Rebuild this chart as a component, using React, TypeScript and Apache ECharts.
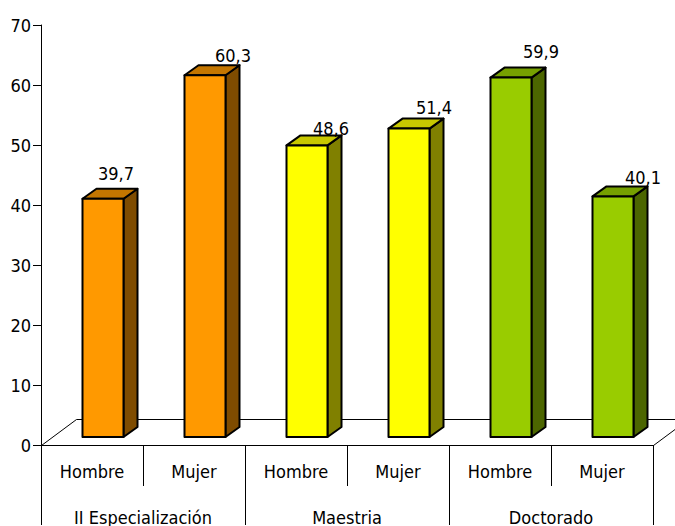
import React, { useEffect, useRef } from "react";
import * as echarts from "echarts";

const categories = ["Hombre", "Mujer", "Hombre", "Mujer", "Hombre", "Mujer"];
const groups = ["II Especialización", "Maestria", "Doctorado"];
const values = [39.7, 60.3, 48.6, 51.4, 59.9, 40.1];
const groupOfBar = [0, 0, 1, 1, 2, 2];

// styling (not data)
const palette = [
  { front: "#FF9900", top: "#C47600", side: "#7F4C00" },
  { front: "#FFFF00", top: "#C8C800", side: "#808000" },
  { front: "#99CC00", top: "#76A000", side: "#4C6600" },
];
const labelDx = [13, 28, 24, 25, 30, 30];
const labelDy = [25, 20, 17, 21, 26, 19];

const FONT = "'Liberation Sans Narrow', 'Arial Narrow', 'DejaVu Sans Condensed', 'Liberation Sans', Arial, sans-serif";
const FS = 18;

export default function App() {
  const ref = useRef<HTMLDivElement>(null);
  useEffect(() => {
    const chart = echarts.init(ref.current!, null, { renderer: "svg" });
    const barData = values.map((v, i) => [i, v, groupOfBar[i]]);
    const option: any = {
      animation: false,
      backgroundColor: "#fff",
      grid: { left: 41, right: 22, top: 25, bottom: 80 },
      xAxis: [
        {
          type: "category",
          data: categories,
          position: "bottom",
          axisLine: { show: true, lineStyle: { color: "#000", width: 1 } },
          axisTick: { show: true, length: 41, interval: 0, lineStyle: { color: "#000" } },
          axisLabel: { margin: 17, fontSize: FS, fontFamily: FONT, color: "#000", interval: 0 },
          z: 1,
        },
        {
          type: "category",
          data: groups,
          position: "bottom",
          axisLine: { show: true, lineStyle: { color: "#000", width: 1 } },
          axisTick: { show: true, length: 80, interval: 0, lineStyle: { color: "#000" } },
          axisLabel: { margin: 63, fontSize: FS, fontFamily: FONT, color: "#000", interval: 0 },
          z: 1,
        },
      ],
      yAxis: {
        type: "value",
        min: 0,
        max: 70,
        interval: 10,
        axisLine: { show: true, lineStyle: { color: "#000", width: 1 } },
        axisTick: { show: true, length: 8, lineStyle: { color: "#000" } },
        axisLabel: { margin: 10, fontSize: FS, fontFamily: FONT, color: "#000" },
        splitLine: { show: false },
      },
      series: [
        {
          type: "custom",
          xAxisIndex: 0,
          z: 0,
          data: [[0]],
          renderItem: (params: any, api: any) => {
            const cs = params.coordSys;
            const x0 = Math.round(cs.x) + 0.5;
            const x1 = Math.round(cs.x + cs.width) + 0.5;
            const y0 = Math.round(cs.y + cs.height) + 0.5;
            const dx = 35;
            const dy = -26;
            return {
              type: "polygon",
              shape: {
                points: [
                  [x0, y0],
                  [x1, y0],
                  [x1 + dx, y0 + dy],
                  [x0 + dx, y0 + dy],
                ],
              },
              style: { fill: "#fff", stroke: "#000", lineWidth: 1 },
            };
          },
        },
        {
          type: "custom",
          xAxisIndex: 0,
          z: 5,
          data: barData,
          renderItem: (params: any, api: any) => {
            const i = api.value(0);
            const v = api.value(1);
            const g = api.value(2);
            const col = palette[g];
            const top = api.coord([i, v]);
            const base = api.coord([i, 0]);
            const sx = 11;
            const sy = -8;
            const half = 20.5;
            const ddx = 14;
            const ddy = -10;
            const xl = top[0] - half + sx;
            const xr = top[0] + half + sx;
            const yt = top[1] + sy;
            const yb = base[1] + sy;
            const stroke = { stroke: "#000", lineWidth: 2, lineJoin: "round" };
            const idx = params.dataIndex;
            return {
              type: "group",
              children: [
                {
                  type: "polygon",
                  shape: { points: [[xr, yt], [xr + ddx, yt + ddy], [xr + ddx, yb + ddy], [xr, yb]] },
                  style: { fill: col.side, ...stroke },
                },
                {
                  type: "polygon",
                  shape: { points: [[xl, yt], [xr, yt], [xr + ddx, yt + ddy], [xl + ddx, yt + ddy]] },
                  style: { fill: col.top, ...stroke },
                },
                {
                  type: "rect",
                  shape: { x: xl, y: yt, width: xr - xl, height: yb - yt },
                  style: { fill: col.front, ...stroke },
                },
                {
                  type: "text",
                  x: (xl + xr) / 2 + labelDx[idx],
                  y: yt - labelDy[idx],
                  style: {
                    text: v.toFixed(1).replace(".", ","),
                    fontSize: FS,
                    fontFamily: FONT,
                    fill: "#000",
                    align: "center",
                    verticalAlign: "middle",
                  },
                },
              ],
            };
          },
        },
      ],
    };
    chart.setOption(option);
    return () => chart.dispose();
  }, []);
  return (
    <div
      ref={ref}
      style={{ position: "fixed", left: 0, top: 0, width: 675, height: 526, background: "#fff" }}
    />
  );
}
